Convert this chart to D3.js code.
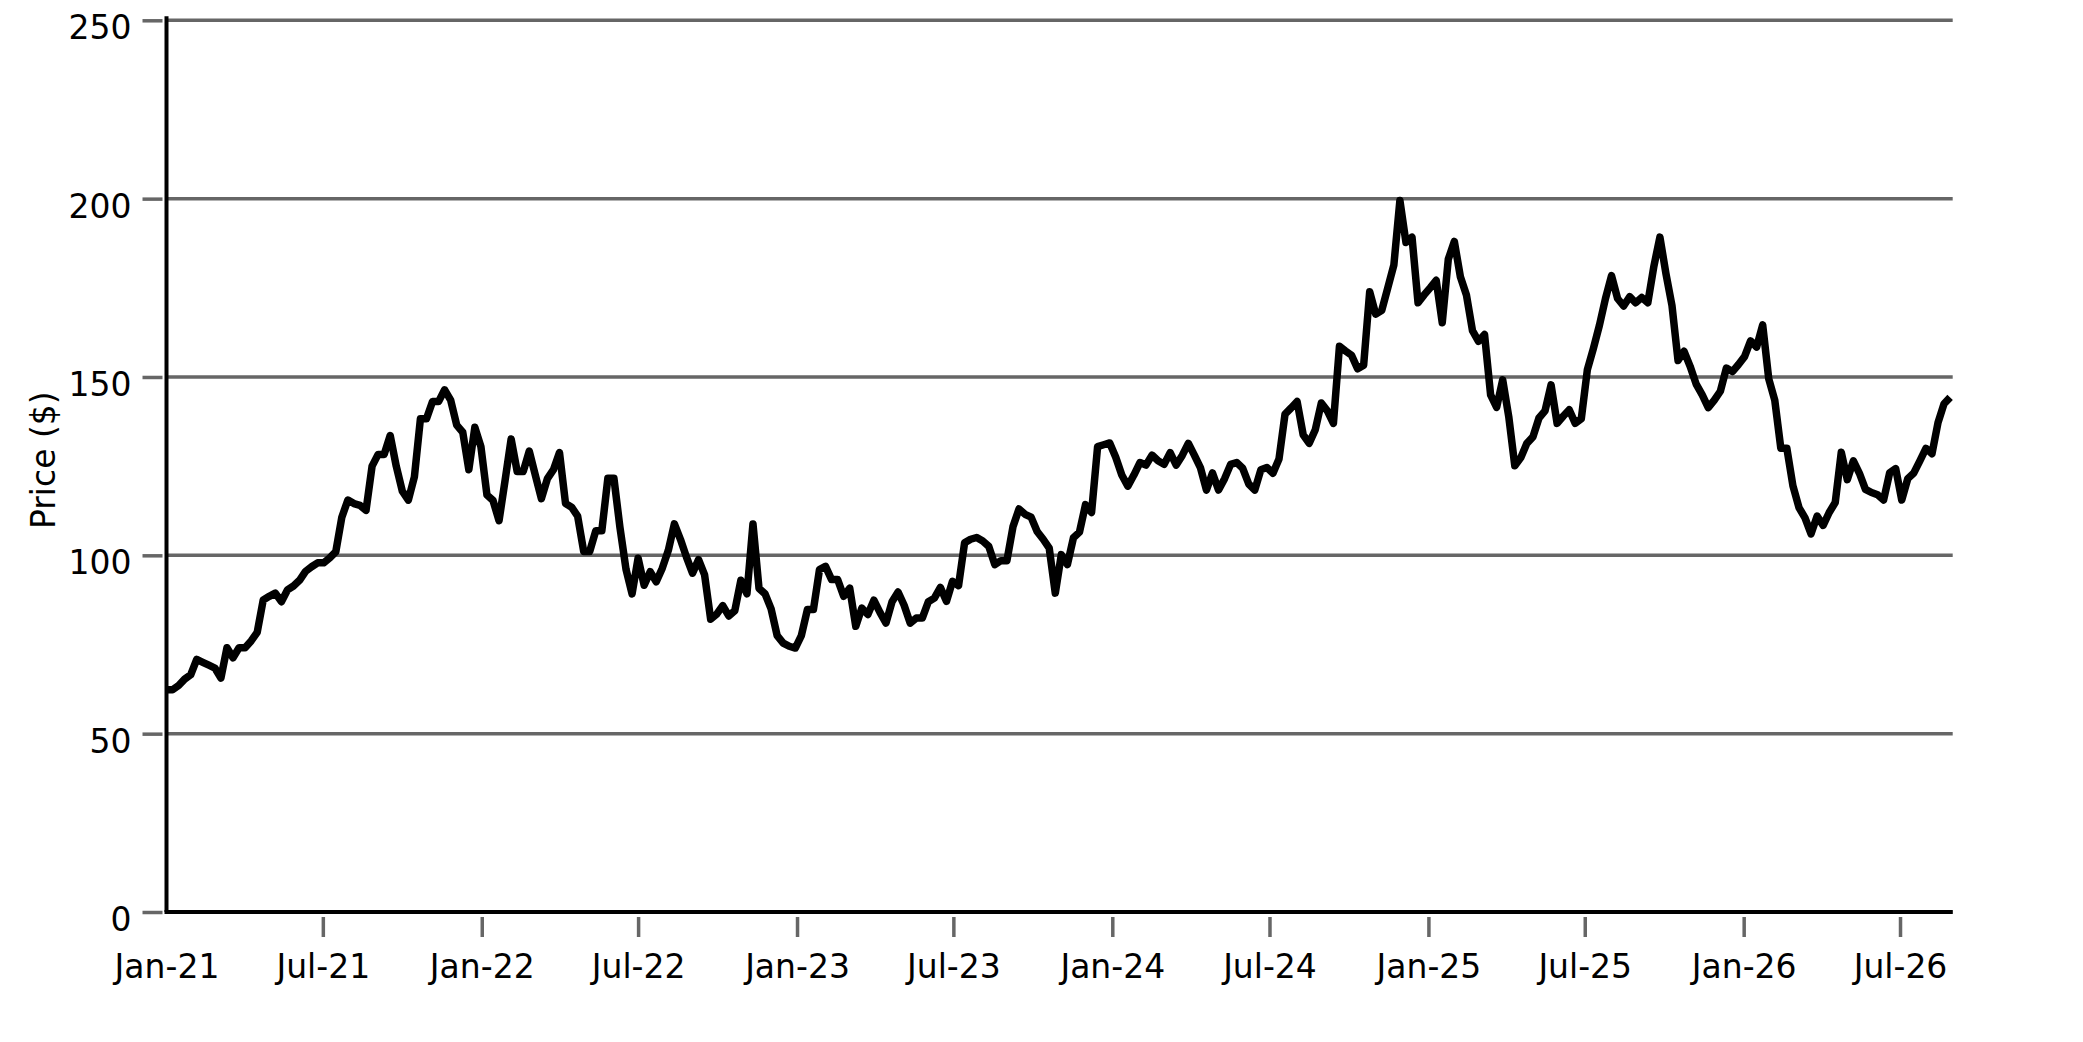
<!DOCTYPE html>
<html>
<head>
<meta charset="utf-8">
<script src="https://cdn.jsdelivr.net/npm/d3@7"></script>
<style>
  body { margin: 0; background: #fff; }
  svg { display: block; font-family: "DejaVu Sans", sans-serif; }
</style>
</head>
<body>
<svg id="chart" width="2083" height="1042"></svg>
<script>
// weekly closing price, one array per calendar year, first week starts 2021-01-01
const firstWeek = '2021-01-01'
const lastDay = '2026-08-31'

const price2021 = [
  62.3, 62.3, 63.5, 65.3, 66.5, 70.8, 70, 69.2, 68.4, 65.6,
  74.1, 71.3, 74.1, 74.1, 76, 78.4, 87.5, 88.5, 89.4, 87,
  90.3, 91.4, 93, 95.5, 96.8, 97.9, 97.9, 99.3, 101, 110.7,
  115.5, 114.5, 114, 112.6, 125, 128.3, 128.3, 133.6, 125, 118,
  115.5, 122, 138.3, 138.3, 143.1, 143.1, 146.4, 143.5, 136.5, 134.5,
  124, 135.9, 130.5
]
const price2022 = [
  116.9, 115.4, 109.7, 121, 132.6, 123.5, 123.5, 129.2, 122.5, 115.9,
  121.5, 124, 128.8, 114.5, 113.5, 111, 101.1, 101.1, 106.9, 106.9,
  121.6, 121.6, 107.8, 96.1, 89.2, 99.2, 91.6, 95.4, 92.6, 96.4,
  101.4, 108.8, 104.5, 99.5, 95, 98.8, 94.5, 82.1, 83.5, 85.9,
  83, 84.5, 93, 89.2, 108.8, 90.7, 89.2, 85, 77.5, 75.4,
  74.5, 74
]
const price2023 = [
  77.5, 84.8, 84.8, 96, 96.9, 93.2, 93.2, 88.5, 90.8, 80.1,
  85.2, 83.4, 87.4, 84, 81, 87, 89.7, 86, 81, 82.4,
  82.4, 87, 88, 91, 87.1, 92.7, 91.5, 103.5, 104.5, 105,
  104, 102.5, 97.4, 98.5, 98.5, 108, 113, 111.5, 110.7, 106.7,
  104.5, 102, 89.4, 100.2, 97.4, 104.9, 106.5, 114.2, 112, 130.5,
  131, 131.5
]
const price2024 = [
  127.5, 122.5, 119.4, 122.5, 126, 125.3, 128.1, 126.5, 125.5, 128.8,
  125.3, 128, 131.4, 128.1, 124.6, 118.3, 123.1, 118.3, 121.5, 125.5,
  126, 124.4, 120, 118.3, 124, 124.6, 123, 127, 139.6, 141.3,
  143.1, 133.8, 131.4, 135.2, 142.7, 140.5, 137, 158.6, 157.3, 156.1,
  152.3, 153.3, 173.9, 167.6, 168.7, 175, 181.4, 199.5, 187.7, 189.2,
  170.8, 173
]
const price2025 = [
  175, 177.1, 165.2, 183, 188, 178.1, 173, 163, 160, 161.9,
  145, 141.5, 149.2, 138.9, 125.1, 127.4, 131.4, 133.2, 138.5, 140.5,
  147.8, 137, 139, 140.8, 137, 138.3, 152, 158, 164.5, 172,
  178.4, 172, 169.9, 172.5, 170.8, 172.3, 170.8, 181, 189.2, 179,
  170, 154.6, 157.2, 153, 148, 145, 141.4, 143.5, 146, 152.5,
  151.5, 153.5
]
const price2026 = [
  155.7, 160.1, 158.4, 164.6, 149.5, 143.5, 130, 130, 119.5, 113.4,
  110.5, 106, 111, 108.4, 112, 114.8, 128.9, 121.2, 126.5, 123,
  118.5, 117.6, 117, 115.5, 123.1, 124.3, 115.5, 121.5, 123.1, 126.5,
  130, 128.5, 137.2, 142.5, 144.3
]

const yTicks = [0, 50, 100, 150, 200, 250]
const yLabel = 'Price ($)'

const parseDay = d3.timeParse('%Y-%m-%d')
const start = parseDay(firstWeek)

const prices = [].concat(price2021, price2022, price2023, price2024, price2025, price2026)
const data = prices.map((v, i) => ({ date: d3.timeDay.offset(start, i * 7), value: v }))

// plot frame
const plotLeft = 166.5
const plotRight = 1952.7
const plotTop = 20.3
const plotBottom = 912

const x = d3.scaleTime()
  .domain([start, parseDay(lastDay)])
  .range([plotLeft, plotRight])

const y = d3.scaleLinear()
  .domain([0, 250])
  .range([plotBottom, plotTop])

const svg = d3.select('#chart')

// horizontal grid
svg.append('g')
  .selectAll('line')
  .data(yTicks)
  .enter()
  .append('line')
  .attr('x1', plotLeft)
  .attr('x2', plotRight)
  .attr('y1', d => y(d))
  .attr('y2', d => y(d))
  .style('stroke', '#666')
  .style('stroke-width', 3.5)

// y ticks + labels, ticks sit a little off the axis line
const yAxis = svg.append('g')
  .attr('transform', `translate(${plotLeft - 4},0)`)
  .call(d3.axisLeft(y).tickValues(yTicks).tickSize(20).tickPadding(11))

yAxis.select('.domain').remove()
yAxis.selectAll('line').style('stroke', '#666').style('stroke-width', 3.5)
yAxis.selectAll('text')
  .attr('dy', '0.56em')
  .style('font-family', '"DejaVu Sans", sans-serif')
  .style('font-size', '33px')
  .style('fill', '#000')

// x ticks: every six months
const xTicks = d3.timeMonth.every(6).range(start, parseDay(lastDay))
const xAxis = svg.append('g')
  .attr('transform', `translate(0,${plotBottom + 5})`)
  .call(d3.axisBottom(x).tickValues(xTicks).tickSize(20).tickPadding(18).tickFormat(d3.timeFormat('%b-%y')))

xAxis.select('.domain').remove()
xAxis.selectAll('line')
  .style('stroke', '#666')
  .style('stroke-width', 3.5)
  .style('display', (d, i) => i === 0 ? 'none' : null)
xAxis.selectAll('text')
  .style('font-family', '"DejaVu Sans", sans-serif')
  .style('font-size', '33px')
  .style('fill', '#000')

// axis frame lines
svg.append('line')
  .attr('x1', plotLeft).attr('x2', plotLeft)
  .attr('y1', plotTop - 4).attr('y2', plotBottom)
  .style('stroke', '#000')
  .style('stroke-width', 4)

svg.append('line')
  .attr('x1', plotLeft - 2).attr('x2', plotRight)
  .attr('y1', plotBottom).attr('y2', plotBottom)
  .style('stroke', '#000')
  .style('stroke-width', 4)

// price line
const line = d3.line()
  .x(d => x(d.date))
  .y(d => y(d.value))

svg.append('path')
  .datum(data)
  .attr('d', line)
  .style('fill', 'none')
  .style('stroke', '#000')
  .style('stroke-width', 7.5)
  .style('stroke-linejoin', 'round')

svg.append('text')
  .attr('transform', `translate(55,${(plotTop + plotBottom) / 2 - 6}) rotate(-90)`)
  .attr('text-anchor', 'middle')
  .style('font-size', '33px')
  .style('fill', '#000')
  .text(yLabel)
</script>
</body>
</html>
